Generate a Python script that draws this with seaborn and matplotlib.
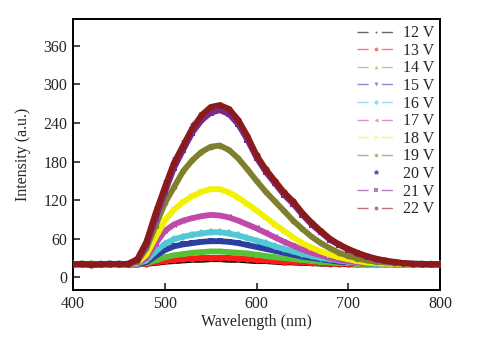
import matplotlib
matplotlib.use("Agg")
import matplotlib.pyplot as plt
from matplotlib.lines import Line2D
import numpy as np
import pandas as pd
import seaborn as sns

# Wavelength grid (nm)
wavelength = list(range(400, 801, 10))

# Emission intensity (a.u.) for each drive voltage
v12 = [20,20,20,20,20,20,20, 20,21,22,24,25,26,27,27,28,28,27,27,26,25,25,24,23,23,22,22,21,21,21,20,20,20,20,20,20,20,20,20,20,20]
v13 = [20,20,20,20,20,20,20, 20,21,23,25,27,28,29,30,30,30,30,29,28,27,26,25,24,24,23,22,22,21,21,21,20,20,20,20,20,20,20,20,20,20]
v14 = [20,20,20,20,20,20,20, 20,22,26,31,34,36,38,39,40,40,39,38,37,35,33,31,30,28,27,25,24,23,22,22,21,21,20,20,20,20,20,20,20,20]
v15 = [20,20,20,20,20,21,20, 20,23,33,42,48,51,53,55,56,56,55,53,50,47,44,41,38,35,32,30,28,26,24,23,22,22,21,21,20,20,20,20,20,20]
v16 = [20,20,20,20,21,20,20, 21,26,40,52,59,63,66,68,70,70,68,65,61,57,53,48,44,40,36,33,30,28,26,24,22,22,21,21,20,20,20,20,20,20]
v17 = [20,20,20,21,20,20,20, 21,30,52,72,82,88,92,95,97,96,93,88,82,76,69,62,55,49,43,38,34,30,27,25,23,22,22,21,21,20,20,20,20,20]
v18 = [20,20,21,20,20,20,21, 22,35,62,88,105,117,126,133,137,137,132,124,114,104,93,82,72,62,53,46,40,35,31,28,25,23,22,21,21,20,20,20,20,20]
v19 = [20,21,20,20,21,20,20, 24,45,80,115,140,165,182,195,203,205,198,185,168,150,133,118,103,88,75,63,53,45,38,33,29,26,24,23,22,21,21,20,20,20]
v20 = [20,20,20,21,20,20,21, 30,60,108,150,185,212,238,255,264,266,258,240,214,186,164,146,128,114,97,82,70,58,50,43,37,32,28,25,23,22,21,20,20,20]
v21 = [20,20,21,20,20,21,20, 26,50,92,132,170,198,225,244,256,260,254,238,214,186,164,146,128,114,97,82,70,58,50,43,37,32,28,25,23,22,21,20,20,20]
v22 = [20,21,19,20,21,20,21, 28,55,100,140,178,205,232,252,265,268,262,245,220,190,168,150,132,118,100,85,72,60,51,44,38,33,29,26,24,22,21,21,20,20]

labels = ["12 V", "13 V", "14 V", "15 V", "16 V", "17 V", "18 V", "19 V", "20 V", "21 V", "22 V"]
series = [v12, v13, v14, v15, v16, v17, v18, v19, v20, v21, v22]
colors = ["#000000", "#ff1a1a", "#58c236", "#2b3f9e", "#52c8d6", "#c04aa8",
          "#f2f200", "#7f7f2e", "#1f2a80", "#7a2a8e", "#8b1a1a"]
markers = [".", "o", "^", "v", "D", "<", ">", "h", "*", "s", "o"]

df = pd.DataFrame({
    "Wavelength": np.tile(wavelength, len(series)),
    "Intensity": np.concatenate(series),
    "Voltage": np.repeat(labels, len(wavelength)),
})

sns.set_style("white")
plt.rcParams["font.family"] = ["Liberation Serif", "DejaVu Serif"]

fig = plt.figure(figsize=(4.78, 3.39), dpi=100)
ax = fig.add_axes([0.1527, 0.1445, 0.768, 0.7995])

for lab, col, mk in zip(labels, colors, markers):
    sub = df[df["Voltage"] == lab]
    if lab == "20 V":
        sns.scatterplot(data=sub, x="Wavelength", y="Intensity", ax=ax, color=col,
                        marker=mk, s=18, linewidth=0, legend=False, zorder=3)
    else:
        sns.lineplot(data=sub, x="Wavelength", y="Intensity", ax=ax, color=col,
                     marker=mk, markersize=4.5, markeredgewidth=0, linewidth=4.2,
                     legend=False, zorder=3)

ax.set_xlim(400, 800)
ax.set_ylim(-20, 402)
ax.set_xticks([400, 500, 600, 700, 800])
ax.set_yticks([0, 60, 120, 180, 240, 300, 360])
ax.set_xlabel("Wavelength (nm)", fontsize=11.5, labelpad=2)
ax.set_ylabel("Intensity (a.u.)", fontsize=11.5, labelpad=9)
ax.tick_params(axis="both", which="major", direction="in", length=5, width=1.2,
               labelsize=11.5, top=False, right=False, bottom=True, left=True, pad=4)
for sp in ax.spines.values():
    sp.set_linewidth(1.4)
    sp.set_color("black")

handles = []
for lab, col, mk in zip(labels, colors, markers):
    if lab == "20 V":
        h = Line2D([0], [0], color=col, linestyle="none", marker=mk, markersize=3)
    else:
        h = Line2D([0], [0], color=col, linewidth=1.0,
                   linestyle=(0, (8.0, 9.5)), marker=mk, markersize=2.8,
                   markeredgewidth=0)
    handles.append(h)

leg = ax.legend(handles, labels, loc="upper right", bbox_to_anchor=(1.015, 1.018),
                frameon=False, fontsize=11.5, handlelength=2.4, handletextpad=0.5,
                labelspacing=0.1, borderaxespad=0.3)
for line in leg.get_lines():
    line.set_alpha(0.6)

fig.savefig("out.png", dpi=100)
